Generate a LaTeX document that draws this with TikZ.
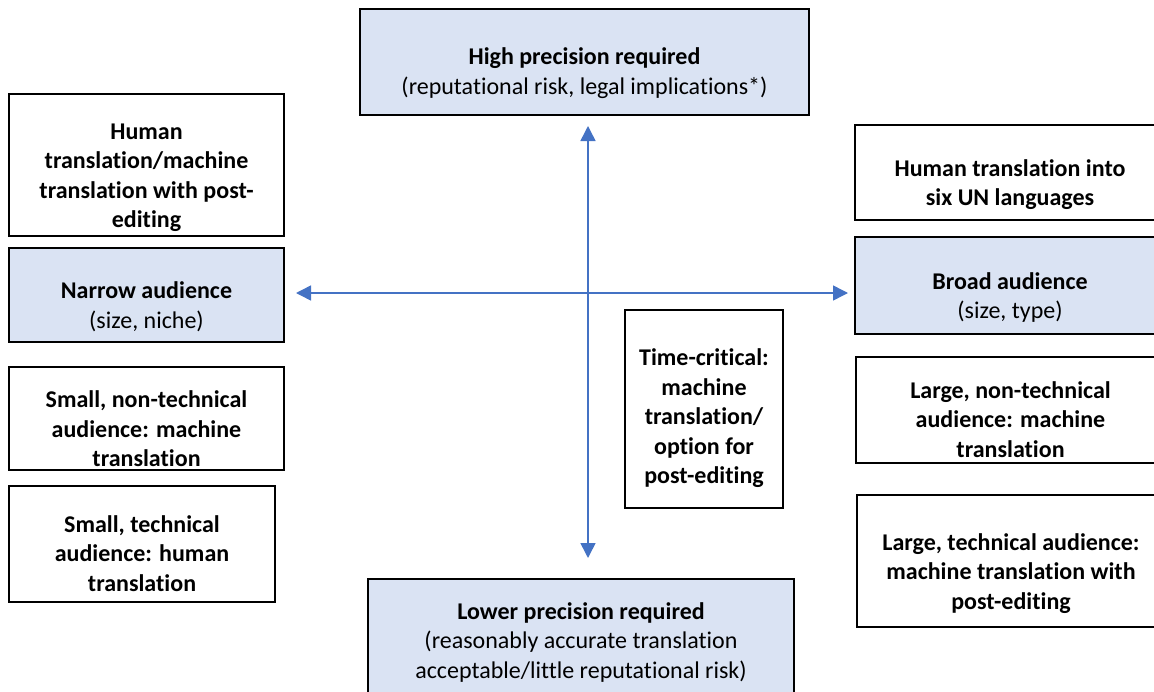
\documentclass[tikz,border=0pt]{standalone}
\usepackage{fontspec}
\setmainfont{Carlito}[RawFeature={-liga}]
\usetikzlibrary{arrows.meta}
\definecolor{axisblue}{HTML}{4472C4}
\definecolor{paleblue}{HTML}{DAE3F3}
% text lines of a box, set a little below the middle of the box
\newcommand{\boxlines}[2][19pt]{\raisebox{-#1}[0pt][0pt]{\begin{tabular}{@{}c@{}}#2\end{tabular}}}
\tikzset{box/.style = {draw=black, line width=1.2pt, fill=white, rectangle, inner sep=0pt, font=\fontsize{24}{29.5}\selectfont\bfseries},
         pole/.style = {box, fill=paleblue, font=\fontsize{24}{29.5}\selectfont},
         axis/.style = {draw=axisblue, line width=1.5pt, {Triangle[length=15pt,width=15pt]}-{Triangle[length=15pt,width=15pt]}}}

\begin{document}
\begin{tikzpicture}[x=1pt,y=-1pt]
        \useasboundingbox(0,0)rectangle(1154,691);
        \clip(0,0)rectangle(1154,691);

        % the two axes
        \coordinate(top)at(588,126);
        \coordinate(bottom)at(588,558);
        \coordinate(left)at(296,293);
        \coordinate(right)at(848,293);
        \draw[axis](top)--(bottom);
        \draw[axis](left)--(right);

        % ends of the axes
        \node[pole, minimum width=449pt, minimum height=106pt](high)at(584.5,62){\boxlines[18pt]{\textbf{High precision required}\\(reputational risk, legal implications*)}};
        \node[pole, minimum width=426pt, minimum height=122pt](lower)at(581,640){\boxlines[9pt]{\textbf{Lower precision required}\\(reasonably accurate translation\\acceptable/little reputational risk)}};
        \node[pole, minimum width=275pt, minimum height=94pt](narrow)at(146.5,295){\boxlines{\textbf{Narrow audience}\\(size, niche)}};
        \node[pole, minimum width=310pt, minimum height=97pt](broad)at(1010,285.5){\boxlines{\textbf{Broad audience}\\(size, type)}};

        % left side
        \node[box, minimum width=275pt, minimum height=142pt](hum)at(146.5,165){\boxlines{Human\\translation/machine\\translation with post-\\editing}};
        \node[box, minimum width=275pt, minimum height=103pt](smallnt)at(146.5,418.5){\boxlines{Small, non-technical\\audience: machine\\translation}};
        \node[box, minimum width=266pt, minimum height=116pt](smallt)at(142,544){\boxlines[18pt]{Small, technical\\audience: human\\translation}};

        % middle
        \node[box, minimum width=158pt, minimum height=198pt](timec)at(704,409){\boxlines[16pt]{Time-critical:\\machine\\translation/\\option for\\post-editing}};

        % right side
        \node[box, minimum width=310pt, minimum height=95pt](six)at(1010,172.5){\boxlines{Human translation into\\six UN languages}};
        \node[box, minimum width=309pt, minimum height=106pt](largent)at(1010.5,410){\boxlines[18pt]{Large, non-technical\\audience: machine\\translation}};
        \node[box, minimum width=308pt, minimum height=132pt](largete)at(1011,561){\boxlines{Large, technical audience:\\machine translation with\\post-editing}};
\end{tikzpicture}
\end{document}
